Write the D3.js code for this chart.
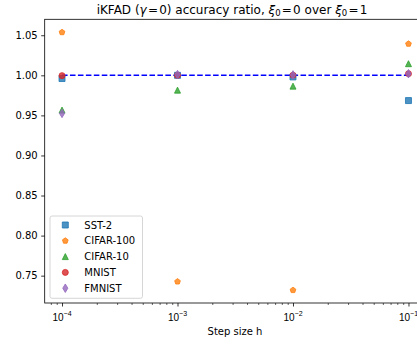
<!DOCTYPE html>
<html><head><meta charset="utf-8">
<script src="https://cdn.jsdelivr.net/npm/d3@7"></script>
<style>
html,body{margin:0;padding:0;background:#fff;overflow:hidden;}
svg{display:block;font-family:"DejaVu Sans",sans-serif;}
</style></head>
<body><svg id="c" width="417" height="347"></svg>
<script>
const steps = [1e-4, 1e-3, 1e-2, 1e-1];
const seriesNames = ["SST-2", "CIFAR-100", "CIFAR-10", "MNIST", "FMNIST"];
const sst2     = [0.996, 1.000, 0.998, 0.9685];
const cifar100 = [1.0537, 0.7426, 0.7319, 1.0393];
const cifar10  = [0.9566, 0.9815, 0.9865, 1.0145];
const mnist    = [0.9996, 1.000, 1.0002, 1.002];
const fmnist   = [0.9525, 1.001, 1.0005, 1.002];
const yTicks = [0.75, 0.80, 0.85, 0.90, 0.95, 1.00, 1.05];
const xTicks = [1e-4, 1e-3, 1e-2, 1e-1];
const refLevel = 1.0;

const colors = ["#1f77b4", "#ff7f0e", "#2ca02c", "#d62728", "#9467bd"];
const shapes = ["square", "pentagon", "triangle", "circle", "thindiamond"];
const allSeries = [sst2, cifar100, cifar10, mnist, fmnist];

const svg = d3.select("#c");
const L = 44.7, R = 425.8, T = 19.3, B = 303;
const x = d3.scaleLog().domain([Math.pow(10, -4.15), Math.pow(10, -0.85)]).range([L, R]);
const y = d3.scaleLinear().domain([0.7159, 1.0699]).range([B, T]);

function markerPath(shape) {
  const p = d3.path();
  if (shape === "square") { p.rect(-3, -3, 6, 6); }
  else if (shape === "circle") { p.arc(0, 0, 3, 0, 2 * Math.PI); p.closePath(); }
  else if (shape === "triangle") { p.moveTo(0, -3); p.lineTo(-3, 3); p.lineTo(3, 3); p.closePath(); }
  else if (shape === "thindiamond") { p.moveTo(0, -4.24); p.lineTo(2.55, 0); p.lineTo(0, 4.24); p.lineTo(-2.55, 0); p.closePath(); }
  else if (shape === "pentagon") {
    for (let i = 0; i < 5; i++) {
      const a = -Math.PI / 2 + i * 2 * Math.PI / 5;
      const px = 3 * Math.cos(a), py = 3 * Math.sin(a);
      if (i === 0) p.moveTo(px, py); else p.lineTo(px, py);
    }
    p.closePath();
  }
  return p.toString();
}

// reference dashed line
svg.append("line")
  .attr("x1", x(steps[0])).attr("x2", x(steps[steps.length - 1]))
  .attr("y1", y(refLevel)).attr("y2", y(refLevel))
  .attr("stroke", "#0000ff").attr("stroke-width", 1.5)
  .attr("stroke-dasharray", "5.55,2.4");

// points
allSeries.forEach((vals, si) => {
  svg.append("g").selectAll("path").data(vals).join("path")
    .attr("d", markerPath(shapes[si]))
    .attr("transform", (d, i) => `translate(${x(steps[i])},${y(d)})`)
    .attr("fill", colors[si]).attr("stroke", colors[si]).attr("stroke-width", 1)
    .attr("fill-opacity", 0.8).attr("stroke-opacity", 0.8);
});

// axes
const yAxis = d3.axisLeft(y).tickValues(yTicks).tickFormat(d3.format(".2f")).tickSize(3.5).tickPadding(3.5);
const gy = svg.append("g").attr("transform", `translate(${L},0)`).call(yAxis);
gy.select(".domain").remove();
gy.selectAll("text").attr("font-size", 10).attr("fill", "#000").attr("font-family", "DejaVu Sans");
gy.selectAll("line").attr("stroke", "#000").attr("stroke-width", 0.8);

const minorTicks = [];
for (let e = -5; e <= -1; e++) for (let m = 2; m <= 9; m++) {
  const v = m * Math.pow(10, e);
  if (v >= x.domain()[0] && v <= x.domain()[1]) minorTicks.push(v);
}
const gxm = svg.append("g").attr("transform", `translate(0,${B})`)
  .call(d3.axisBottom(x).tickValues(minorTicks).tickFormat("").tickSize(2));
gxm.select(".domain").remove();
gxm.selectAll("line").attr("stroke", "#000").attr("stroke-width", 0.6);

const gx = svg.append("g").attr("transform", `translate(0,${B})`)
  .call(d3.axisBottom(x).tickValues(xTicks).tickFormat("").tickSize(3.5));
gx.select(".domain").remove();
gx.selectAll("line").attr("stroke", "#000").attr("stroke-width", 0.8);
gx.selectAll(".tick").each(function (d) {
  const t = d3.select(this).append("text").attr("y", 17.5).attr("x", -0.5)
    .attr("text-anchor", "middle").attr("font-size", 10).attr("fill", "#000");
  t.append("tspan").text("10");
  t.append("tspan").attr("font-size", 7).attr("dy", -4.5).text("\u2212" + Math.round(-Math.log10(d)));
});

// spines
svg.append("rect").attr("x", L).attr("y", T).attr("width", R - L).attr("height", B - T)
  .attr("fill", "none").attr("stroke", "#000").attr("stroke-width", 0.8);

// title
const title = svg.append("text").attr("x", 232).attr("y", 14).attr("text-anchor", "middle")
  .attr("font-size", 12).attr("fill", "#000");
title.append("tspan").text("iKFAD (");
title.append("tspan").attr("font-style", "italic").text("\u03b3");
title.append("tspan").text("\u200a=\u200a0) accuracy ratio, ");
title.append("tspan").attr("font-style", "italic").text("\u03be");
title.append("tspan").attr("font-size", 8.5).attr("dy", 2).text("0");
title.append("tspan").attr("dy", -2).text("\u200a=\u200a0 over ");
title.append("tspan").attr("font-style", "italic").text("\u03be");
title.append("tspan").attr("font-size", 8.5).attr("dy", 2).text("0");
title.append("tspan").attr("dy", -2).text("\u200a=\u200a1");

// x label
svg.append("text").attr("x", 235).attr("y", 335).attr("text-anchor", "middle")
  .attr("font-size", 10).attr("fill", "#000").text("Step size h");

// legend
const lg = svg.append("g");
lg.append("rect").attr("x", 50).attr("y", 216).attr("width", 92.5).attr("height", 82.3)
  .attr("rx", 2).attr("fill", "#fff").attr("fill-opacity", 0.8)
  .attr("stroke", "#cccccc").attr("stroke-width", 0.8);
seriesNames.forEach((name, i) => {
  const yy = 225 + i * 15.8;
  lg.append("path").attr("d", markerPath(shapes[i]))
    .attr("transform", `translate(65.3,${yy})`)
    .attr("fill", colors[i]).attr("stroke", colors[i]).attr("stroke-width", 1)
    .attr("fill-opacity", 0.8).attr("stroke-opacity", 0.8);
  lg.append("text").attr("x", 84.3).attr("y", yy + 3.6).attr("font-size", 10)
    .attr("fill", "#000").text(name);
});
</script></body></html>
